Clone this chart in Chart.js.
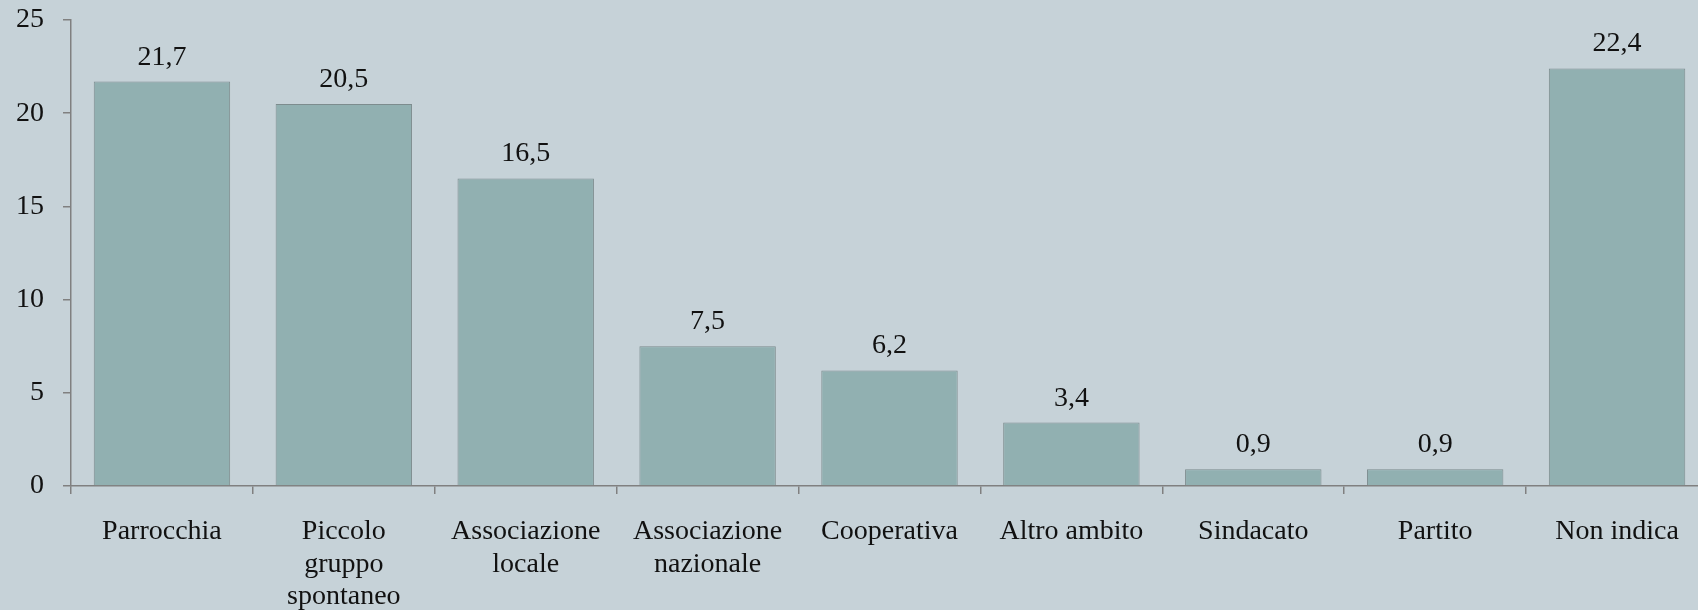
<!DOCTYPE html>
<html>
<head>
<meta charset="utf-8">
<script src="https://cdn.jsdelivr.net/npm/chart.js@4/dist/chart.umd.min.js"></script>
<style>
  html, body { margin: 0; padding: 0; background: #c6d2d8; overflow: hidden; }
  #wrap { width: 1708px; height: 610px; }
</style>
</head>
<body>
<div id="wrap"><canvas id="myChart1"></canvas></div>
<script>
const categories = [
  'Parrocchia',
  ['Piccolo', 'gruppo', 'spontaneo'],
  ['Associazione', 'locale'],
  ['Associazione', 'nazionale'],
  'Cooperativa',
  'Altro ambito',
  'Sindacato',
  'Partito',
  'Non indica'
];
const values = [21.7, 20.5, 16.5, 7.5, 6.2, 3.4, 0.9, 0.9, 22.4];
const yTicks = [0, 5, 10, 15, 20, 25];

const FONT = "'Liberation Serif', 'Times New Roman', serif";

// values above the bars, with comma decimals
const valueLabels = {
  id: 'valueLabels',
  afterDatasetsDraw(chart) {
    const ctx = chart.ctx;
    const meta = chart.getDatasetMeta(0);
    ctx.save();
    ctx.font = '28px ' + FONT;
    ctx.fillStyle = '#111';
    ctx.textAlign = 'center';
    ctx.textBaseline = 'alphabetic';
    meta.data.forEach(function (bar, i) {
      ctx.fillText(values[i].toFixed(1).replace('.', ','), bar.x, bar.y - 17);
    });
    ctx.restore();
  }
};

let ctx = document.getElementById('myChart1').getContext('2d');
new Chart(ctx, {
  type: 'bar',
  data: {
    labels: categories,
    datasets: [{
      data: values,
      backgroundColor: 'rgb(145,176,177)',
      borderColor: 'rgb(125,140,142)',
      borderWidth: 1,
      barPercentage: 0.75,
      categoryPercentage: 1
    }]
  },
  options: {
    responsive: true,
    maintainAspectRatio: false,
    animation: false,
    layout: { padding: { top: 20, right: 0, left: 0, bottom: 0 } },
    plugins: { legend: { display: false }, tooltip: { enabled: false } },
    scales: {
      x: {
        afterFit: function (scale) {
          scale.height = 124;
          scale.paddingLeft = 0;
          scale.paddingRight = 0;
        },
        grid: {
          offset: true,
          drawOnChartArea: false,
          tickLength: 8,
          color: 'rgb(128,128,128)',
          lineWidth: 1.5
        },
        border: { color: 'rgb(128,128,128)', width: 1.5 },
        ticks: {
          autoSkip: false,
          maxRotation: 0,
          minRotation: 0,
          padding: 22,
          color: '#111',
          font: { family: FONT, size: 28, lineHeight: 1.15 }
        }
      },
      y: {
        min: 0,
        max: 25,
        afterFit: function (scale) {
          scale.width = 71;
          scale.paddingTop = 0;
          scale.paddingBottom = 0;
        },
        afterBuildTicks: function (scale) {
          scale.ticks = yTicks.map(function (v) { return { value: v }; });
        },
        grid: {
          drawOnChartArea: false,
          tickLength: 8,
          color: 'rgb(128,128,128)',
          lineWidth: 1.5
        },
        border: { color: 'rgb(128,128,128)', width: 1.5 },
        ticks: {
          padding: 19,
          color: '#111',
          font: { family: FONT, size: 28 }
        }
      }
    }
  },
  plugins: [valueLabels]
});
</script>
</body>
</html>
